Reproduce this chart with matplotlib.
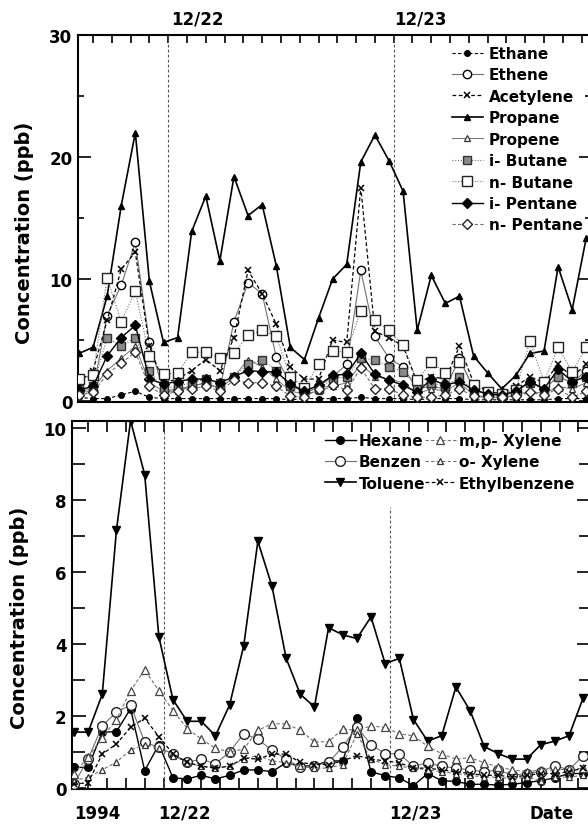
import numpy as np
import pandas as pd
import matplotlib
matplotlib.use("Agg")
import matplotlib.pyplot as plt

plt.rcParams['font.family'] = ['DejaVu Sans']
plt.rcParams['font.weight'] = 'bold'

# Sampling times (every 90 minutes) and hours relative to 12/22 00:00
sample_times = pd.date_range("1994-12-21 14:30", periods=37, freq="90min")
hours = ((sample_times - pd.Timestamp("1994-12-22")) / pd.Timedelta(hours=1)).to_numpy()

# ---- upper panel: C2-C5 hydrocarbons (ppb) ----
ethane = [0.3, 0.2, 0.2, 0.5, 0.8, 0.3, 0.2, 0.2, 0.2, 0.2, 0.2, 0.2, 0.2, 0.2, 0.2, 0.1, 0.2, 0.2, 0.2,
          0.2, 0.3, 0.2, 0.2, 0.2, 0.1, 0.2, 0.2, 0.2, 0.1, 0.1, 0.1, 0.1, 0.1, 0.1, 0.2, 0.2, 0.2]
ethene = [0.7, 0.8, 7.0, 9.5, 13.0, 4.8, 0.8, 1.0, 1.2, 1.5, 1.0, 6.5, 9.7, 8.8, 3.6, 1.4, 0.6, 1.2, 2.0,
          3.0, 10.7, 5.3, 3.5, 2.8, 1.0, 1.2, 1.0, 3.5, 1.0, 0.5, 0.4, 0.8, 1.5, 1.0, 2.0, 1.5, 2.5]
acetylene = [1.5, 2.5, 6.6, 10.8, 12.2, 4.5, 1.5, 1.8, 2.5, 3.4, 2.5, 5.2, 10.7, 8.8, 6.3, 2.8, 1.8, 1.8, 5.0,
             4.8, 17.5, 5.7, 5.2, 4.5, 1.5, 2.0, 1.8, 4.5, 1.5, 0.8, 0.6, 1.2, 2.0, 1.5, 3.0, 2.0, 3.0]
propane = [3.9, 4.4, 8.6, 16.0, 22.0, 9.8, 4.8, 5.2, 13.9, 16.8, 11.5, 18.4, 15.2, 16.1, 11.1, 4.4, 3.4, 6.8, 10.0,
           11.2, 19.6, 21.8, 19.7, 17.2, 5.8, 10.3, 8.0, 8.6, 3.7, 2.3, 1.0, 2.1, 3.9, 4.1, 11.0, 7.5, 13.4]
propene = [0.8, 1.0, 2.5, 3.5, 4.5, 1.5, 0.8, 0.8, 1.2, 1.5, 1.0, 2.0, 3.4, 2.8, 1.8, 0.8, 0.6, 0.8, 1.2,
           1.5, 3.0, 2.0, 1.8, 1.5, 0.6, 1.0, 0.8, 1.5, 0.5, 0.3, 0.3, 0.5, 0.8, 0.6, 1.2, 1.0, 1.5]
i_butane = [1.0, 1.2, 5.2, 4.5, 5.2, 2.5, 1.0, 1.2, 1.5, 1.8, 1.5, 2.0, 3.0, 3.4, 2.5, 1.2, 0.8, 1.0, 1.8,
            2.0, 3.5, 3.4, 2.8, 2.4, 1.2, 1.5, 1.2, 2.0, 0.8, 0.6, 0.4, 0.8, 1.5, 1.0, 2.0, 1.5, 2.0]
n_butane = [1.8, 2.1, 10.1, 6.5, 9.0, 3.7, 2.2, 2.3, 4.0, 4.0, 3.5, 3.9, 5.4, 5.8, 5.3, 2.0, 1.1, 3.0, 4.1,
            4.0, 7.4, 6.6, 5.8, 4.6, 1.7, 3.2, 2.3, 3.2, 1.3, 0.7, 0.6, 0.9, 4.9, 1.6, 4.4, 2.4, 4.4]
i_pentane = [0.9, 1.2, 3.7, 5.2, 6.2, 1.8, 1.4, 1.6, 1.8, 1.8, 1.5, 2.0, 2.5, 2.4, 2.4, 1.4, 0.8, 1.3, 2.1,
             2.2, 3.9, 2.2, 1.7, 1.3, 0.7, 1.8, 1.3, 1.6, 0.9, 0.6, 0.5, 0.8, 1.6, 1.0, 2.6, 1.6, 2.0]
n_pentane = [0.5, 0.7, 2.2, 3.1, 4.0, 1.2, 0.5, 0.8, 1.0, 1.2, 0.8, 1.7, 1.5, 1.5, 1.2, 0.4, 0.3, 1.0, 1.3,
             0.9, 2.7, 1.0, 1.0, 0.5, 0.3, 0.3, 0.5, 1.0, 0.4, 0.3, 0.3, 0.4, 0.7, 0.5, 1.0, 0.3, 0.8]

# ---- lower panel: aromatics and hexane (ppb) ----
hexane = [0.57, 0.57, 1.55, 1.56, 2.2, 0.48, 1.2, 0.28, 0.25, 0.35, 0.25, 0.35, 0.5, 0.5, 0.45, 0.7, 0.6, 0.62, 0.75,
          0.75, 1.95, 0.45, 0.34, 0.28, 0.06, 0.4, 0.2, 0.18, 0.1, 0.1, 0.08, 0.1, 0.15, 0.2, 0.28, 0.4, 0.4]
benzene = [0.11, 0.8, 1.73, 2.1, 2.3, 1.27, 1.13, 0.94, 0.71, 0.8, 0.67, 1.0, 1.5, 1.36, 1.04, 0.8, 0.57, 0.62, 0.71,
           1.14, 1.7, 1.2, 0.95, 0.95, 0.6, 0.7, 0.6, 0.55, 0.5, 0.45, 0.5, 0.35, 0.4, 0.45, 0.62, 0.5, 0.9]
toluene = [1.55, 1.55, 2.6, 7.15, 10.2, 8.7, 4.2, 2.45, 1.85, 1.85, 1.45, 2.3, 3.95, 6.85, 5.6, 3.6, 2.6, 2.25, 4.45,
           4.25, 4.15, 4.75, 3.45, 3.6, 1.9, 1.3, 1.45, 2.8, 2.15, 1.15, 0.95, 0.8, 0.8, 1.2, 1.3, 1.45, 2.5]
mp_xylene = [0.4, 0.85, 1.4, 1.9, 2.7, 3.28, 2.7, 2.15, 1.65, 1.36, 1.1, 1.0, 1.08, 1.6, 1.78, 1.78, 1.6, 1.28, 1.28,
             1.64, 1.6, 1.72, 1.68, 1.5, 1.45, 1.16, 0.95, 0.8, 0.84, 0.7, 0.58, 0.5, 0.45, 0.5, 0.5, 0.52, 0.55]
o_xylene = [0.2, 0.3, 0.5, 0.72, 1.05, 1.2, 1.1, 0.9, 0.7, 0.6, 0.55, 0.6, 0.8, 0.9, 0.75, 0.7, 0.6, 0.55, 0.55,
            0.65, 1.5, 0.8, 0.65, 0.6, 0.55, 0.5, 0.45, 0.4, 0.35, 0.3, 0.3, 0.25, 0.3, 0.2, 0.3, 0.3, 0.35]
ethylbenzene = [0.1, 0.15, 0.94, 1.22, 1.68, 1.94, 1.42, 0.95, 0.71, 0.6, 0.56, 0.6, 0.83, 0.8, 0.94, 0.94, 0.71, 0.65,
                0.65, 0.75, 0.9, 0.8, 0.75, 0.7, 0.55, 0.55, 0.5, 0.45, 0.4, 0.35, 0.35, 0.3, 0.35, 0.4, 0.4, 0.45, 0.55]

upper_labels = ["Ethane", "Ethene", "Acetylene", "Propane", "Propene",
                "i- Butane", "n- Butane", "i- Pentane", "n- Pentane"]
lower_labels = ["Hexane", "Benzen", "Toluene", "m,p- Xylene", "o- Xylene", "Ethylbenzene"]

G = "#707070"
upper_styles = [
    dict(ls=(0, (3, 2)), lw=0.8, color="k", marker="o", ms=4, mfc="k", mec="k"),
    dict(ls="-", lw=0.8, color=G, marker="o", ms=6, mfc="white", mec="k", mew=1.0),
    dict(ls=(0, (3, 2)), lw=0.9, color="k", marker="x", ms=5, mec="k", mew=1.1),
    dict(ls="-", lw=1.2, color="k", marker="^", ms=5, mfc="k", mec="k"),
    dict(ls="-", lw=0.7, color=G, marker="^", ms=5, mfc="white", mec="#333333", mew=0.9),
    dict(ls=(0, (1, 1.5)), lw=0.8, color=G, marker="s", ms=5.5, mfc="#8a8a8a", mec="#333333", mew=1.0),
    dict(ls=(0, (1, 1.5)), lw=0.8, color=G, marker="s", ms=6.5, mfc="white", mec="#222222", mew=1.0),
    dict(ls="-", lw=1.0, color="k", marker="D", ms=5, mfc="k", mec="k"),
    dict(ls=(0, (3, 2)), lw=0.8, color=G, marker="D", ms=5.5, mfc="white", mec="#222222", mew=1.0),
]
lower_styles = [
    dict(ls="-", lw=1.0, color="k", marker="o", ms=5.5, mfc="k", mec="k"),
    dict(ls="-", lw=0.8, color=G, marker="o", ms=7, mfc="white", mec="#222222", mew=1.0),
    dict(ls="-", lw=1.2, color="k", marker="v", ms=5.5, mfc="k", mec="k"),
    dict(ls=(0, (3, 2)), lw=0.8, color=G, marker="^", ms=6, mfc="white", mec="#444444", mew=0.9),
    dict(ls=(0, (3, 2)), lw=0.8, color=G, marker="^", ms=5, mfc="white", mec="#333333", mew=0.9),
    dict(ls=(0, (3, 2)), lw=0.9, color="k", marker="x", ms=5, mec="k", mew=1.1),
]

W, H = 588, 837
fig = plt.figure(figsize=(W / 100, H / 100), dpi=100)
fig.patch.set_facecolor("white")


def px_axes(left, top, right, bottom):
    return fig.add_axes([left / W, 1 - bottom / H, (right - left) / W, (bottom - top) / H])


ax1 = px_axes(78, 36, 591, 403)
ax2 = px_axes(72, 422, 591, 790)

upper_series = [ethane, ethene, acetylene, propane, propene, i_butane, n_butane, i_pentane, n_pentane]
lower_series = [hexane, benzene, toluene, mp_xylene, o_xylene, ethylbenzene]

draw_order_upper = [5, 6, 4, 8, 1, 2, 0, 7, 3]
for k in draw_order_upper:
    ax1.plot(hours, upper_series[k], label=upper_labels[k], zorder=3 + k * 0.1, **upper_styles[k])
draw_order_lower = [4, 3, 5, 1, 0, 2]
for k in draw_order_lower:
    ax2.plot(hours, lower_series[k], label=lower_labels[k], zorder=3 + k * 0.1, **lower_styles[k])

# date separators (midnight of 12/22 and 12/23)
dash = dict(color="#555555", lw=0.8, ls=(0, (2.5, 2)), zorder=2)
ax1.axvline(0, **dash)
ax1.axvline(24, **dash)
ax2.axvline(0, **dash)
ax2.vlines(24, 0, 7.8, **dash)

ax1.set_xlim(-9.6, 45.0)
ax1.set_ylim(-0.08, 30)
ax2.set_xlim(-9.71, 45.33)
ax2.set_ylim(-0.03, 10.19)

xt = np.arange(-8, 46, 2)
for ax in (ax1, ax2):
    for s in ax.spines.values():
        s.set_linewidth(1.5)
    ax.set_xticks(xt)
    ax.tick_params(axis="x", which="major", direction="in", length=6, width=1.2,
                   labelbottom=False, labeltop=False)
    ax.tick_params(axis="y", which="both", direction="in", width=1.2, labelsize=12,
                   left=True, right=True, pad=4)

ax1.tick_params(axis="x", top=True, bottom=False)
ax2.tick_params(axis="x", top=True, bottom=True, length=8)

ax1.set_yticks([0, 10, 20, 30])
ax1.set_yticks([5, 15, 25], minor=True)
ax1.tick_params(axis="y", which="major", length=9)
ax1.tick_params(axis="y", which="minor", length=4)

ax2.set_yticks([0, 2, 4, 6, 8, 10])
ax2.set_yticks([1, 3, 5, 7, 9], minor=True)
ax2.tick_params(axis="y", which="major", length=10)
ax2.tick_params(axis="y", which="minor", length=9)

for lab in ax1.get_yticklabels() + ax2.get_yticklabels():
    lab.set_fontweight("bold")

# axis titles and date labels
fig.text(25 / W, 1 - 233 / H, "Concentration (ppb)", rotation=90, ha="center", va="center",
         fontsize=14, fontweight="bold")
fig.text(20 / W, 1 - 618 / H, "Concentration (ppb)", rotation=90, ha="center", va="center",
         fontsize=14, fontweight="bold")
for x, s in [(197, "12/22"), (420, "12/23")]:
    fig.text(x / W, 1 - 20 / H, s, ha="center", va="center", fontsize=12, fontweight="bold")
for x, s in [(97, "1994"), (184, "12/22"), (415, "12/23"), (552, "Date")]:
    fig.text(x / W, 1 - 814 / H, s, ha="center", va="center", fontsize=12, fontweight="bold")

# legends
h1, l1 = ax1.get_legend_handles_labels()
order1 = [l1.index(n) for n in upper_labels]
ax1.legend([h1[i] for i in order1], [l1[i] for i in order1], loc="upper left",
           bbox_to_anchor=(452 / W, 1 - 47 / H), bbox_transform=fig.transFigure,
           frameon=False, handlelength=2.0, handletextpad=0.4,
           labelspacing=0.42, borderpad=0, borderaxespad=0, numpoints=1,
           prop=dict(weight="bold", size=11))

h2, l2 = ax2.get_legend_handles_labels()
order2 = [l2.index(n) for n in lower_labels]
ax2.legend([h2[i] for i in order2], [l2[i] for i in order2], loc="upper left", ncol=2,
           bbox_to_anchor=(325 / W, 1 - 434 / H), bbox_transform=fig.transFigure,
           frameon=False, handlelength=2.0, handletextpad=0.2, columnspacing=0.0,
           labelspacing=0.42, borderpad=0, borderaxespad=0, numpoints=1,
           prop=dict(weight="bold", size=11))

fig.savefig("out.png", dpi=100)
